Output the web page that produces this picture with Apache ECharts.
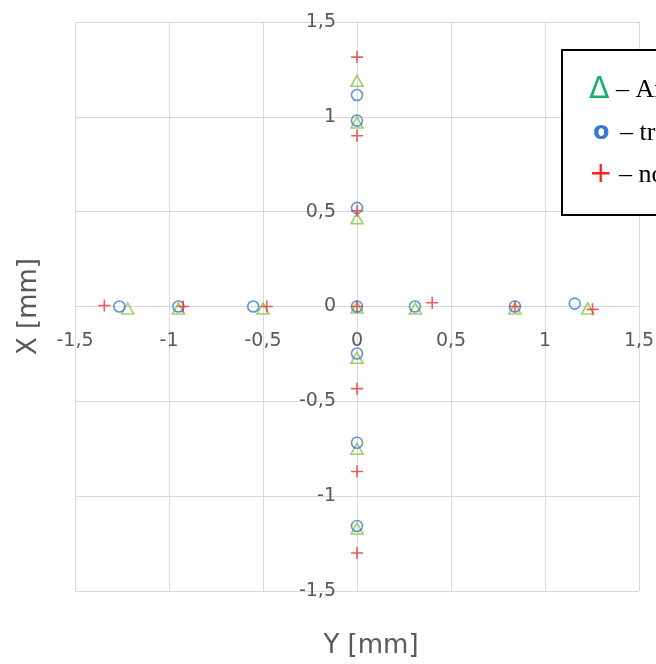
<!DOCTYPE html>
<html>
<head>
<meta charset="utf-8">
<script src="https://cdn.jsdelivr.net/npm/echarts@6/dist/echarts.min.js"></script>
<style>
  html, body { margin: 0; padding: 0; background: #fff; }
  #chart { width: 656px; height: 664px; }
</style>
</head>
<body>
<div id="chart"></div>
<script>
// Measured point positions: [Y, X] in mm
const seriesNames = ['Ansys', 'trajektoria', 'nominalna'];

const ansysPoints = [
  [-1.22, -0.01], [-0.95, -0.01], [-0.50, -0.01], [0, -0.005], [0.31, -0.01], [0.84, -0.01], [1.227, -0.01],
  [0, 1.19], [0, 0.97], [0, 0.465], [0, -0.27], [0, -0.75], [0, -1.17]
];

const trajPoints = [
  [-1.264, 0], [-0.95, 0], [-0.552, 0], [0, 0], [0.308, 0], [0.84, 0], [1.158, 0.015],
  [0, 1.115], [0, 0.98], [0, 0.52], [0, -0.248], [0, -0.718], [0, -1.157]
];

const nominalPoints = [
  [-1.344, 0.005], [-0.925, 0], [-0.48, 0], [0, 0], [0.40, 0.02], [0.84, 0], [1.253, -0.015],
  [0, 1.315], [0, 0.90], [0, 0.505], [0, -0.433], [0, -0.87], [0, -1.30]
];

const axisTicks = [-1.5, -1, -0.5, 0, 0.5, 1, 1.5];

const colGreen = '#86c440';
const colBlue = '#3a78d4';
const colRed = '#e8333a';
const gridGrey = '#d9d9d9';
const labelGrey = '#595959';
const sans = 'DejaVu Sans';
const serif = 'Liberation Serif';

const plusPath = 'path://M0,5 L10,5 M5,0 L5,10';

const fmt = v => String(v).replace('.', ',');

// plot box
const gridLeft = 75, gridRight = 17, gridTop = 22, gridBottom = 73;
const W = 656, H = 664;
const plotW = W - gridLeft - gridRight;
const plotH = H - gridTop - gridBottom;
const lo = axisTicks[0], hi = axisTicks[axisTicks.length - 1];
// axes cross at the origin: shift each axis inward from its grid edge
const yAxisShift = plotW * (0 - lo) / (hi - lo);
const xAxisShift = plotH * (0 - lo) / (hi - lo);

const chart = echarts.init(document.getElementById('chart'), null, { renderer: 'canvas' });

chart.setOption({
  animation: false,
  backgroundColor: '#ffffff',
  grid: { left: gridLeft, right: gridRight, top: gridTop, bottom: gridBottom, containLabel: false, outerBoundsMode: 'none' },
  xAxis: {
    type: 'value',
    position: 'bottom',
    offset: -xAxisShift,
    min: lo,
    max: hi,
    interval: 0.5,
    name: 'Y [mm]',
    nameLocation: 'middle',
    nameGap: 327,
    nameTextStyle: { fontSize: 26, color: labelGrey, fontFamily: sans, padding: [0, 0, 0, 28] },
    axisLine: { onZero: false, lineStyle: { color: gridGrey, width: 1 } },
    axisTick: { show: false },
    axisLabel: { formatter: fmt, margin: 25, fontSize: 19, color: labelGrey, fontFamily: sans },
    splitLine: { show: true, lineStyle: { color: gridGrey, width: 1 } }
  },
  yAxis: {
    type: 'value',
    position: 'left',
    offset: -yAxisShift,
    min: lo,
    max: hi,
    interval: 0.5,
    name: 'X [mm]',
    nameLocation: 'middle',
    nameGap: 315,
    nameTextStyle: { fontSize: 26, color: labelGrey, fontFamily: sans },
    axisLine: { onZero: false, lineStyle: { color: gridGrey, width: 1 } },
    axisTick: { show: false },
    axisLabel: { formatter: fmt, margin: 21, fontSize: 19, color: labelGrey, fontFamily: sans },
    splitLine: { show: true, lineStyle: { color: gridGrey, width: 1 } }
  },
  legend: {
    orient: 'vertical',
    left: 562,
    top: 50,
    padding: [25, 20, 26, 22],
    itemGap: 15,
    itemWidth: 0,
    itemHeight: 0,
    icon: 'none',
    borderColor: '#000',
    borderWidth: 2,
    backgroundColor: '#fff',
    selectedMode: false,
    data: seriesNames.map(n => ({ name: n, icon: 'none' })),
    formatter: name => {
      if (name === seriesNames[0]) return '{tri|Δ}{t| – ' + name + '}';
      if (name === seriesNames[1]) return '{cir|o}{t| – ' + name + '}';
      return '{pls|+}{t| – ' + name + '}';
    },
    textStyle: {
      fontSize: 26,
      fontFamily: serif,
      color: '#000',
      rich: {
        tri: { fontSize: 30, color: '#19b06a', fontFamily: sans },
        cir: { fontSize: 24, color: colBlue, fontFamily: sans, fontWeight: 'bold', padding: [0, 4, 0, 4] },
        pls: { fontSize: 28, color: '#ff2020', fontFamily: sans },
        t: { fontSize: 26, color: '#000', fontFamily: serif }
      }
    }
  },
  series: [
    {
      name: seriesNames[0],
      type: 'scatter',
      data: ansysPoints,
      symbol: 'triangle',
      symbolSize: [12, 11],
      itemStyle: { color: 'rgba(0,0,0,0)', borderColor: colGreen, borderWidth: 1.6 },
      z: 2
    },
    {
      name: seriesNames[1],
      type: 'scatter',
      data: trajPoints,
      symbol: 'circle',
      symbolSize: 11,
      itemStyle: { color: 'rgba(0,0,0,0)', borderColor: colBlue, borderWidth: 1.6 },
      z: 3
    },
    {
      name: seriesNames[2],
      type: 'scatter',
      data: nominalPoints,
      symbol: plusPath,
      symbolSize: 12,
      itemStyle: { color: 'rgba(0,0,0,0)', borderColor: colRed, borderWidth: 1.6 },
      z: 4
    }
  ]
});
</script>
</body>
</html>
